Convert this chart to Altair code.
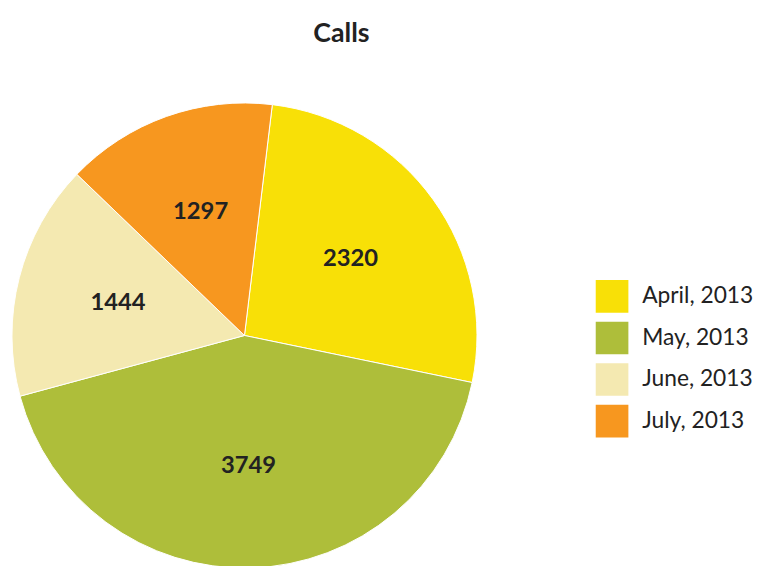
import math
import altair as alt
import pandas as pd

months = ["April, 2013", "May, 2013", "June, 2013", "July, 2013"]
calls = [2320, 3749, 1444, 1297]
colors = ["#F8E007", "#AEBE3A", "#F4E9B1", "#F7971F"]
title_text = "Calls"

df = pd.DataFrame({"month": months, "calls": calls, "order": list(range(len(months)))})

start = 0.12
cx, cy, R = 239, 328, 235

base = alt.Chart(df).encode(
    theta=alt.Theta("calls:Q", stack=True,
                    scale=alt.Scale(range=[start, start + 2 * math.pi])),
    order=alt.Order("order:Q"),
    x=alt.value(cx),
    y=alt.value(cy),
)

arcs = base.mark_arc(outerRadius=R, stroke="white", strokeWidth=1).encode(
    color=alt.Color(
        "month:N",
        sort=months,
        scale=alt.Scale(domain=months, range=colors),
        legend=alt.Legend(
            title=None, orient="none", legendX=594, legendY=272,
            symbolType="square", symbolSize=1089, symbolStrokeWidth=0,
            labelFontSize=23, labelFont="Lato", labelColor="#222222",
            rowPadding=9, labelOffset=14, labelLimit=300,
        ),
    )
)

labels = base.mark_text(radius=132, fontSize=24, fontWeight="bold",
                        font="Lato", color="#222222").encode(
    text=alt.Text("calls:Q", format="d")
)

title = alt.Chart(pd.DataFrame({"t": [title_text]})).mark_text(
    fontSize=27, fontWeight="bold", font="Lato", color="#222222"
).encode(text="t:N", x=alt.value(337), y=alt.value(23))

chart = alt.layer(arcs, labels, title).properties(
    width=758, height=558,
    autosize=alt.AutoSizeParams(type="none"),
    padding=0,
).configure_view(stroke=None)

chart.save("out.html", embed_options={"renderer": "svg", "actions": False})
